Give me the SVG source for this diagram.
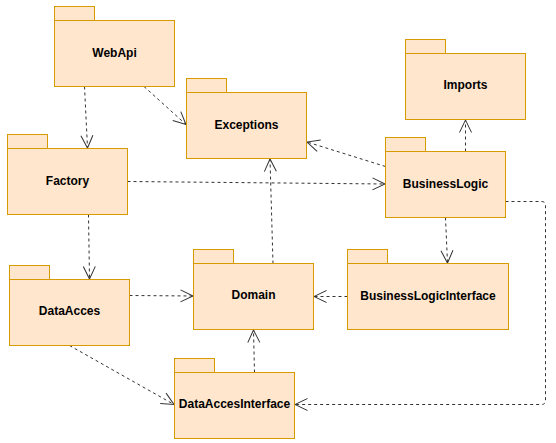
<svg xmlns="http://www.w3.org/2000/svg" width="556" height="443" viewBox="0 0 556 443">
  <defs>
    <style>
      .pkg rect { fill: #ffe6cc; stroke: #d79b00; stroke-width: 1; }
      .pkg text { font-family: "Liberation Sans", Arial, Helvetica, sans-serif; font-size: 12px; font-weight: bold; fill: #000; text-anchor: middle; }
      .dep { fill: none; stroke: #333; stroke-width: 1; stroke-dasharray: 3 3; marker-end: url(#open); }
    </style>
    <marker id="open" markerUnits="userSpaceOnUse" markerWidth="16" markerHeight="16" viewBox="-14 -8 16 16" refX="0" refY="0" orient="auto" overflow="visible">
      <path d="M-12.5,-6 L0,0 L-12.5,6" fill="none" stroke="#333" stroke-width="1" stroke-dasharray="none"/>
    </marker>
  </defs>

  <rect width="556" height="443" fill="#fff"/>

  <!-- dependencies -->
  <g id="connectors">
    <path class="dep" d="M84.5,86.5 L87.5,148"/>
    <path class="dep" d="M144,86.5 L186,124.5"/>
    <path class="dep" d="M127.5,181.5 L385,184"/>
    <path class="dep" d="M273,263.5 L270,159"/>
    <path class="dep" d="M385.5,166.5 L307,142"/>
    <path class="dep" d="M465.5,151.5 L465.5,120"/>
    <path class="dep" d="M445.5,217.5 L447.5,263"/>
    <path class="dep" d="M347.5,296.5 L314,296.5"/>
    <path class="dep" d="M129.5,295.5 L193,296"/>
    <path class="dep" d="M88.5,214.5 L89.5,279"/>
    <path class="dep" d="M69.5,345.5 L174,404.5"/>
    <path class="dep" d="M254.5,372.5 L253.5,330"/>
    <path class="dep" d="M505.5,201.5 L541.5,201.5 Q545.5,201.5 545.5,205.5 L545.5,400.5 Q545.5,404.5 541.5,404.5 L295,404.5"/>
  </g>

  <g id="webapi" class="pkg">
    <rect x="54.5" y="6.5" width="40" height="14"/>
    <rect x="54.5" y="20.5" width="120" height="66"/>
    <text x="114.5" y="56.5">WebApi</text>
  </g>

  <g id="exceptions" class="pkg">
    <rect x="186.5" y="78.5" width="40" height="14"/>
    <rect x="186.5" y="92.5" width="120" height="66"/>
    <text x="246.5" y="128.5">Exceptions</text>
  </g>

  <g id="factory" class="pkg">
    <rect x="7.5" y="134.5" width="40" height="14"/>
    <rect x="7.5" y="148.5" width="120" height="66"/>
    <text x="67.5" y="184.5">Factory</text>
  </g>

  <g id="imports" class="pkg">
    <rect x="405.5" y="39.5" width="40" height="14"/>
    <rect x="405.5" y="53.5" width="120" height="66"/>
    <text x="465.5" y="89">Imports</text>
  </g>

  <g id="businesslogic" class="pkg">
    <rect x="385.5" y="137.5" width="40" height="14"/>
    <rect x="385.5" y="151.5" width="120" height="66"/>
    <text x="445.5" y="187.5">BusinessLogic</text>
  </g>

  <g id="dataacces" class="pkg">
    <rect x="9.5" y="265.5" width="40" height="14"/>
    <rect x="9.5" y="279.5" width="120" height="66"/>
    <text x="69.5" y="314.5">DataAcces</text>
  </g>

  <g id="domain" class="pkg">
    <rect x="193.5" y="249.5" width="40" height="14"/>
    <rect x="193.5" y="263.5" width="120" height="66"/>
    <text x="253.5" y="298.5">Domain</text>
  </g>

  <g id="businesslogicinterface" class="pkg">
    <rect x="347.5" y="249.5" width="40" height="14"/>
    <rect x="347.5" y="263.5" width="161" height="66"/>
    <text x="428" y="300">BusinessLogicInterface</text>
  </g>

  <g id="dataaccesinterface" class="pkg">
    <rect x="174.5" y="358.5" width="40" height="14"/>
    <rect x="174.5" y="372.5" width="120" height="66"/>
    <text x="234.5" y="408">DataAccesInterface</text>
  </g>
</svg>
